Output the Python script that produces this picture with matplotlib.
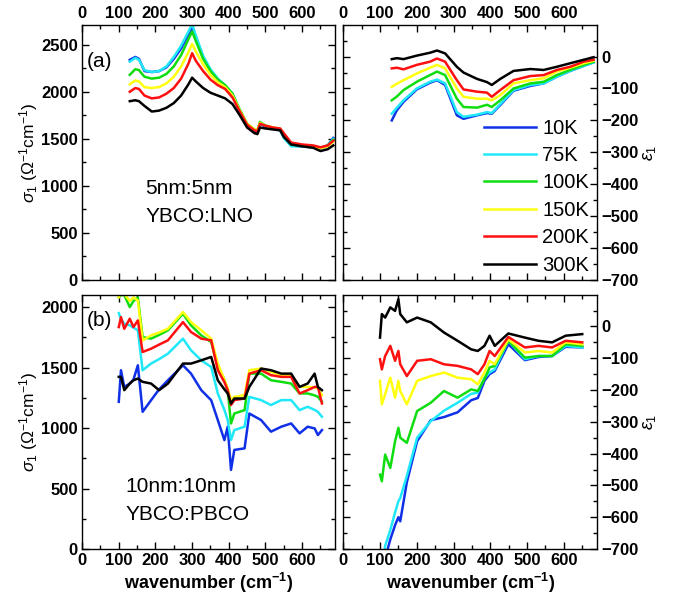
import numpy as np
import matplotlib
matplotlib.use("Agg")
import matplotlib.pyplot as plt
from matplotlib.ticker import MultipleLocator

plt.rcParams['font.family'] = ['Liberation Sans', 'DejaVu Sans']
plt.rcParams['mathtext.fontset'] = 'custom'
plt.rcParams['mathtext.rm'] = 'Liberation Sans'
plt.rcParams['mathtext.it'] = 'Liberation Sans:italic'
plt.rcParams['mathtext.bf'] = 'Liberation Sans:bold'

temps = ["10K", "75K", "100K", "150K", "200K", "300K"]
colors = ["#1030e8", "#20e8f8", "#10dd10", "#ffff10", "#ff1010", "#000000"]

# (a) 5nm:5nm YBCO:LNO, sigma_1
wn_a = [130, 145, 155, 170, 190, 210, 230, 250, 270, 290, 300, 310, 330, 350, 370, 390,
        410, 430, 450, 470, 478, 485, 500, 520, 540, 550, 570, 600, 630, 650, 670, 685]
sig_a = {
    "10K":  [2340, 2370, 2350, 2220, 2210, 2220, 2260, 2350, 2460, 2610, 2680, 2580, 2370, 2230, 2130, 2060,
             1970, 1790, 1640, 1580, 1570, 1660, 1630, 1610, 1600, 1530, 1430, 1420, 1410, 1400, 1430, 1510],
    "75K":  [2320, 2360, 2340, 2230, 2210, 2220, 2270, 2370, 2490, 2640, 2720, 2600, 2380, 2240, 2140, 2070,
             1980, 1800, 1650, 1590, 1580, 1670, 1640, 1610, 1590, 1510, 1420, 1420, 1410, 1400, 1430, 1500],
    "100K": [2180, 2240, 2230, 2160, 2140, 2150, 2190, 2270, 2390, 2560, 2640, 2540, 2350, 2220, 2130, 2070,
             1980, 1810, 1660, 1600, 1590, 1680, 1640, 1620, 1600, 1540, 1440, 1430, 1420, 1400, 1430, 1490],
    "150K": [2080, 2120, 2110, 2050, 2040, 2050, 2090, 2160, 2270, 2420, 2510, 2430, 2290, 2180, 2100, 2050,
             1960, 1800, 1660, 1600, 1590, 1670, 1640, 1620, 1610, 1550, 1450, 1430, 1420, 1400, 1420, 1470],
    "200K": [2000, 2040, 2030, 1960, 1930, 1940, 1980, 2040, 2140, 2300, 2410, 2330, 2220, 2130, 2070, 2030,
             1940, 1790, 1650, 1590, 1580, 1660, 1640, 1620, 1610, 1560, 1460, 1440, 1430, 1410, 1430, 1480],
    "300K": [1900, 1910, 1900, 1850, 1790, 1800, 1830, 1880, 1960, 2080, 2150, 2110, 2040, 1990, 1960, 1930,
             1870, 1750, 1620, 1560, 1550, 1620, 1610, 1600, 1590, 1520, 1440, 1420, 1405, 1370, 1390, 1430],
}

# (a) epsilon_1
wn_a2 = [132, 146, 164, 200, 236, 255, 277, 309, 327, 364, 391, 404, 427, 463, 509, 545, 581, 617, 654, 681]
eps_a = {
    "10K":  [-200, -168, -142, -103, -82, -74, -89, -184, -195, -184, -177, -179, -152, -107, -92, -84, -63, -45, -29, -18],
    "75K":  [-179, -160, -137, -100, -79, -72, -84, -174, -189, -182, -174, -177, -149, -105, -89, -84, -63, -45, -29, -18],
    "100K": [-137, -125, -105, -79, -58, -47, -58, -132, -158, -160, -151, -158, -137, -100, -84, -79, -58, -42, -26, -16],
    "150K": [-95, -85, -74, -53, -35, -26, -37, -100, -126, -132, -132, -137, -121, -84, -74, -68, -47, -35, -21, -13],
    "200K": [-37, -35, -40, -26, -16, -6, -16, -74, -103, -110, -113, -126, -105, -74, -61, -58, -42, -32, -16, -10],
    "300K": [-8, -5, -8, 3, 12, 19, 10, -32, -50, -70, -80, -89, -70, -45, -39, -42, -32, -21, -10, -2],
}

# (b) 10nm:10nm YBCO:PBCO, sigma_1
wn_b = [100, 106, 115, 130, 140, 152, 165, 188, 210, 234, 275, 297, 325, 352, 370, 388,
        397, 406, 415, 443, 456, 488, 515, 543, 570, 593, 615, 634, 643, 654]
sig_b = {
    "10K":  [1217, 1478, 1340, 1368, 1400, 1519, 1134, 1230, 1320, 1395, 1519, 1450, 1313, 1230, 1066, 900,
             1011, 654, 819, 832, 1120, 1066, 970, 1011, 1038, 956, 1011, 997, 942, 983],
    "75K":  [1950, 1900, 1862, 1850, 1830, 1808, 1478, 1533, 1570, 1615, 1739, 1643, 1560, 1505, 1286, 1150,
             1066, 901, 983, 1011, 1258, 1231, 1190, 1231, 1231, 1148, 1176, 1150, 1134, 1093],
    "100K": [2082, 2100, 2100, 2000, 2050, 2080, 1752, 1739, 1770, 1808, 1945, 1849, 1766, 1711, 1505, 1400,
             1313, 1038, 1120, 1148, 1450, 1450, 1395, 1382, 1368, 1286, 1286, 1270, 1258, 1217],
    "150K": [2082, 2120, 2110, 2050, 2080, 2055, 1725, 1766, 1790, 1821, 1959, 1876, 1808, 1739, 1533, 1400,
             1327, 1231, 1258, 1272, 1478, 1492, 1464, 1437, 1437, 1340, 1340, 1335, 1327, 1272],
    "200K": [1835, 1917, 1821, 1904, 1835, 1890, 1629, 1656, 1690, 1725, 1876, 1794, 1739, 1725, 1478, 1380,
             1313, 1190, 1231, 1244, 1450, 1478, 1437, 1423, 1423, 1286, 1313, 1340, 1340, 1203],
    "300K": [1423, 1423, 1313, 1368, 1395, 1409, 1382, 1368, 1313, 1368, 1533, 1533, 1560, 1588, 1395, 1320,
             1286, 1203, 1244, 1244, 1340, 1492, 1478, 1450, 1450, 1340, 1368, 1450, 1340, 1313],
}

# (b) epsilon_1
wn_b2 = [100, 105, 114, 128, 141, 150, 155, 173, 201, 238, 274, 311, 348, 366, 384, 398, 412, 449, 494, 531, 568, 605, 650]
eps_b = {
    "10K":  [-850, -800, -730, -670, -625, -600, -613, -490, -361, -295, -285, -270, -232, -225, -171, -150,
             -140, -56, -106, -96, -93, -64, -66],
    "75K":  [-820, -760, -690, -640, -585, -550, -540, -470, -350, -298, -265, -240, -212, -208, -161, -145,
             -135, -45, -103, -93, -93, -61, -66],
    "100K": [-466, -487, -403, -445, -361, -319, -350, -366, -266, -240, -203, -224, -198, -203, -166, -129,
             -124, -45, -98, -93, -93, -56, -61],
    "150K": [-171, -245, -213, -161, -224, -171, -203, -245, -171, -156, -145, -161, -166, -182, -145, -108,
             -119, -40, -82, -77, -82, -50, -56],
    "200K": [-103, -135, -93, -61, -108, -77, -119, -156, -108, -103, -119, -124, -135, -150, -119, -77,
             -93, -33, -66, -61, -66, -45, -50],
    "300K": [-35, 39, 28, 60, 49, 86, 39, 13, 28, 13, -19, -45, -72, -77, -61, -29, -61, -22, -35, -45, -50, -29, -24],
}

fig = plt.figure(figsize=(6.73, 5.99), dpi=100)
ax1 = fig.add_axes([0.122, 0.5326, 0.376, 0.4257])
ax2 = fig.add_axes([0.510, 0.5326, 0.377, 0.4257])
ax3 = fig.add_axes([0.122, 0.0835, 0.376, 0.424])
ax4 = fig.add_axes([0.510, 0.0835, 0.377, 0.424])

for t, c in zip(temps, colors):
    ax1.plot(wn_a, sig_a[t], color=c, lw=1.8)
    ax2.plot(wn_a2, eps_a[t], color=c, lw=1.8, label=t)
    ax3.plot(wn_b, sig_b[t], color=c, lw=1.8)
    ax4.plot(wn_b2, eps_b[t], color=c, lw=1.8)

for ax in (ax1, ax2, ax3, ax4):
    ax.set_xlim(0, 690)
    ax.set_xticks(range(0, 601, 100))
    ax.xaxis.set_minor_locator(MultipleLocator(50))
    ax.tick_params(which='both', direction='in', top=True, right=True, left=True, bottom=True)
    ax.tick_params(which='major', length=5, width=1)
    ax.tick_params(which='minor', length=3, width=1)
    for s in ax.spines.values():
        s.set_linewidth(1.0)

ax1.set_ylim(0, 2710)
ax1.set_yticks(range(0, 2501, 500))
ax1.yaxis.set_minor_locator(MultipleLocator(250))
ax3.set_ylim(0, 2100)
ax3.set_yticks(range(0, 2001, 500))
ax3.yaxis.set_minor_locator(MultipleLocator(250))
for ax in (ax2, ax4):
    ax.set_ylim(-700, 99)
    ax.set_yticks(range(-700, 1, 100))
    ax.yaxis.set_minor_locator(MultipleLocator(50))
    ax.tick_params(labelleft=False, labelright=True)
    ax.yaxis.set_label_position('right')
    ax.set_ylabel(r'$\varepsilon_1$', fontsize=13, labelpad=2)

for ax in (ax1, ax2):
    ax.tick_params(labelbottom=False, labeltop=True)
for ax in (ax3, ax4):
    ax.set_xlabel(r'wavenumber (cm$^{\mathbf{-1}}$)', fontsize=13, fontweight='bold', labelpad=2)

for ax in (ax1, ax3):
    ax.set_ylabel(r'$\sigma_1$ ($\Omega^{-1}$cm$^{-1}$)', fontsize=12.5, labelpad=1)

for ax in (ax1, ax2, ax3, ax4):
    for lab in ax.get_xticklabels() + ax.get_yticklabels():
        lab.set_fontsize(12)
        lab.set_fontweight('bold')
    ax.tick_params(which='major', pad=3)

ax1.text(0.02, 0.855, "(a)", transform=ax1.transAxes, fontsize=15, va='center')
ax1.text(0.25, 0.36, "5nm:5nm", transform=ax1.transAxes, fontsize=15, va='center')
ax1.text(0.25, 0.247, "YBCO:LNO", transform=ax1.transAxes, fontsize=15, va='center')
ax3.text(0.02, 0.90, "(b)", transform=ax3.transAxes, fontsize=15, va='center')
ax3.text(0.17, 0.245, "10nm:10nm", transform=ax3.transAxes, fontsize=15, va='center')
ax3.text(0.17, 0.134, "YBCO:PBCO", transform=ax3.transAxes, fontsize=15, va='center')

ax2.legend(loc='lower right', bbox_to_anchor=(0.97, 0.02), frameon=False, fontsize=14.5,
           handlelength=2.6, handletextpad=0.3, labelspacing=0.42, borderpad=0, borderaxespad=0)

fig.savefig("out.png", dpi=100)
